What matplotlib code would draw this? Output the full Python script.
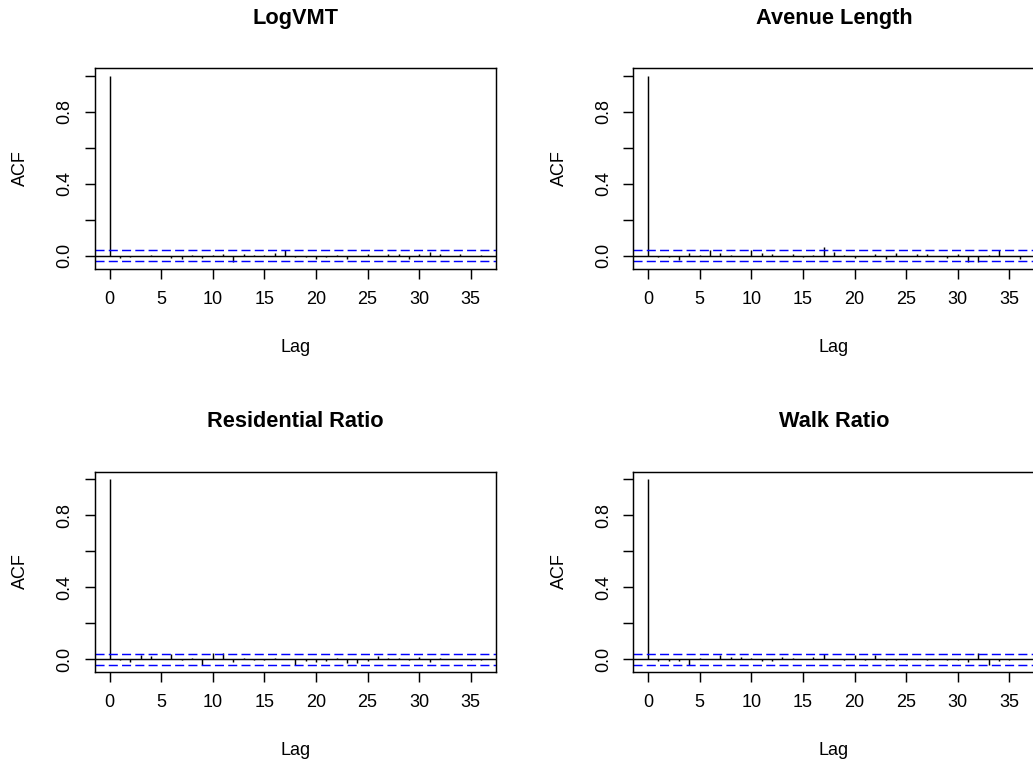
import matplotlib
matplotlib.use("Agg")
import matplotlib.pyplot as plt
import numpy as np

plt.rcParams['font.family'] = ['Liberation Sans', 'DejaVu Sans']

titles = ["LogVMT", "Avenue Length", "Residential Ratio", "Walk Ratio"]
lags = list(range(0, 37))

acf_logvmt = [1.0, -0.015, -0.010, -0.004, 0.003, -0.002, -0.015, -0.018, 0.005, -0.015,
              0.003, 0.007, -0.033, 0.007, 0.005, 0.006, 0.013, 0.033, -0.008, -0.010,
              -0.018, -0.005, 0.002, -0.018, -0.002, 0.007, -0.003, 0.008, 0.010, -0.017,
              0.007, 0.019, 0.007, -0.003, 0.007, -0.002, 0.005]
acf_avenue = [1.0, -0.008, -0.008, -0.026, 0.015, 0.002, 0.033, 0.015, 0.002, -0.004,
              0.033, 0.015, 0.011, -0.004, 0.007, -0.008, 0.002, 0.048, 0.018, 0.002,
              -0.015, -0.002, 0.011, -0.018, 0.015, -0.004, 0.007, 0.007, -0.002, -0.011,
              0.007, -0.033, -0.033, 0.002, 0.030, -0.002, -0.018]
acf_resid = [1.0, -0.002, -0.015, 0.026, 0.018, 0.001, 0.030, -0.006, 0.007, -0.030,
             0.033, 0.037, -0.015, 0.007, -0.007, -0.004, 0.004, 0.001, -0.033, -0.011,
             -0.015, -0.011, 0.007, -0.022, -0.022, -0.011, 0.015, 0.004, 0.004, -0.006,
             0.011, -0.015, 0.007, 0.001, 0.001, -0.007, -0.007]
acf_walk = [1.0, -0.011, -0.011, -0.011, -0.030, 0.007, 0.001, 0.022, 0.011, 0.011,
            0.007, -0.011, -0.011, 0.011, 0.007, 0.001, 0.011, 0.030, 0.001, -0.007,
            0.022, -0.007, 0.026, -0.007, -0.007, -0.007, 0.001, -0.007, 0.001, -0.007,
            -0.007, -0.015, 0.033, -0.030, -0.011, -0.007, 0.001]
series = [acf_logvmt, acf_avenue, acf_resid, acf_walk]
ci_bound = 0.031

xticks = [0, 5, 10, 15, 20, 25, 30, 35]
yticks = [0.0, 0.2, 0.4, 0.6, 0.8, 1.0]
ytick_labels = ["0.0", "", "0.4", "", "0.8", ""]

W, H = 1033, 767
fig = plt.figure(figsize=(W / 100, H / 100), dpi=100)

box_w = 401.3
box_h = 200.7
col_x = [94.7, 633.3]
row_y = [68.0, 471.5]
dx = 538.6
dy = 403.5

tick_fs = 13.0
title_fs = 15.7

for i, (title, vals) in enumerate(zip(titles, series)):
    r, c = divmod(i, 2)
    x0 = col_x[c]
    y0 = row_y[r]
    ax = fig.add_axes([x0 / W, 1 - (y0 + box_h) / H, box_w / W, box_h / H])
    ax.set_xlim(-1.44, 37.44)
    ax.set_ylim(-0.0722, 1.0417)
    ax.vlines(lags, 0, vals, colors='black', lw=1.05)
    ax.axhline(0, color='black', lw=1.05)
    for s in (ci_bound, -ci_bound):
        ax.axhline(s, color='#0000FF', lw=1.05, linestyle=(0, (6.2, 2.9)))
    ax.set_xticks(xticks)
    ax.set_xticklabels([str(t) for t in xticks], fontsize=tick_fs)
    ax.set_yticks(yticks)
    ax.set_yticklabels(ytick_labels, fontsize=tick_fs, rotation=90, va='center')
    ax.tick_params(axis='both', length=7.5, width=1.05, color='black')
    ax.tick_params(axis='x', pad=8.5)
    ax.tick_params(axis='y', pad=8)
    for sp in ax.spines.values():
        sp.set_linewidth(1.05)
        sp.set_color('black')
    cx = x0 + box_w / 2
    fig.text(cx / W, 1 - (18.3 + r * dy) / H, title, ha='center', va='center',
             fontsize=title_fs, fontweight='bold')
    fig.text(cx / W, 1 - (347.3 + r * dy) / H, "Lag", ha='center', va='center',
             fontsize=tick_fs)
    fig.text((20.5 + c * dx) / W, 1 - (168.0 + r * dy) / H, "ACF", ha='center', va='center',
             fontsize=tick_fs, rotation=90)

fig.savefig("out.png", dpi=100)
